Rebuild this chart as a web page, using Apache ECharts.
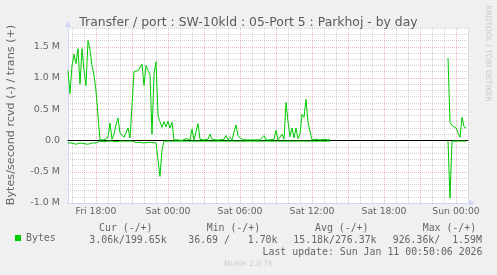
<!DOCTYPE html>
<html><head><meta charset="utf-8">
<script src="https://cdn.jsdelivr.net/npm/echarts@6/dist/echarts.min.js"></script>
<style>html,body{margin:0;padding:0;background:#f0f0f0;}#c{width:497px;height:275px;}</style>
</head><body><div id="c"></div>
<script>
// ---------- data ----------
const titleText = 'Transfer / port : SW-10kld : 05-Port 5 : Parkhoj - by day';
const yAxisTitle = 'Bytes/second rcvd (-) / trans (+)';
const sideText = 'RRDTOOL / TOBI OETIKER';
const footerText = 'Munin 2.0.76';
const dayNames = ['Fri', 'Sat', 'Sun'];
const startMinutes = 15 * 60 + 40;   // Fri 15:40
const stepMinutes = 10;
const xTickLabels = ['Fri 18:00', 'Sat 00:00', 'Sat 06:00', 'Sat 12:00', 'Sat 18:00', 'Sun 00:00'];
const yTickLabels = { '-1': '-1.0 M', '-0.5': '-0.5 M', '0': '0.0', '0.5': '0.5 M', '1': '1.0 M', '1.5': '1.5 M' };
// trans (+), millions of bytes/second, one value every 10 minutes from Fri 15:40
const transM = [
 1.12,0.75,1.2,1.38,1.23,1.47,0.9,1.47,1.12,0.88,
 1.6,1.45,1.2,1.05,0.79,0.76,0.01,0.02,0.01,0.02,
 0.05,0.28,0.02,0.1,0.25,0.36,0.12,0.1,0.05,0.06,
 0.2,0.04,0.03,1.1,1.13,1.12,1.14,1.22,0.88,1.2,
 1.12,1.06,0.1,1.06,1.26,0.4,0.3,0.21,0.3,0.22,
 0.31,0.2,0.29,0.01,0.0,0.01,0.01,0.0,0.01,0.03,
 0.01,0.01,0.18,0.01,0.01,0.27,0.02,0.01,0.01,0.01,
 0.02,0.1,0.02,0.01,0.01,0.01,0.01,0.01,0.02,0.08,
 0.01,0.05,0.01,0.02,0.25,0.08,0.04,0.01,0.01,0.01,
 0.01,0.01,0.01,0.01,0.01,0.02,0.01,0.01,0.08,0.01,
 0.03,0.01,0.01,0.02,0.16,0.01,0.02,0.1,0.02,0.61,
 0.3,0.06,0.2,0.04,0.2,0.03,0.1,0.42,0.37,0.66,
 0.29,0.15,0.01,0.01,0.02,0.01,0.01,0.01,0.02,0.01,
 0.01,0.01,null,null,null,null,null,null,null,null,
 null,null,null,null,null,null,null,null,null,null,
 null,null,null,null,null,null,null,null,null,null,
 null,null,null,null,null,null,null,null,null,null,
 null,null,null,null,null,null,null,null,null,null,
 null,null,null,null,null,null,null,null,null,null,
 1.32,0.29,0.24,0.22,0.2,0.19,0.05,0.37,0.22,0.2,
 null
];
// rcvd (-), millions of bytes/second, drawn below zero
const rcvdM = [
 0.04,0.05,0.04,0.05,0.06,0.05,0.04,0.06,0.05,0.04,
 0.06,0.05,0.04,0.03,0.04,0.01,0.01,0.01,0.02,0.01,
 0.01,0.01,0.01,0.01,0.02,0.01,0.01,0.01,0.01,0.01,
 0.01,0.02,0.01,0.03,0.03,0.04,0.03,0.03,0.04,0.03,
 0.03,0.04,0.03,0.03,0.04,0.03,0.575,0.15,0.01,0.01,
 0.01,0.01,0.01,0.01,0.01,0.01,0.01,0.01,0.01,0.01,
 0.01,0.01,0.01,0.01,0.01,0.01,0.01,0.01,0.01,0.01,
 0.01,0.01,0.01,0.01,0.01,0.01,0.01,0.01,0.01,0.01,
 0.01,0.01,0.01,0.01,0.01,0.01,0.01,0.01,0.01,0.01,
 0.01,0.01,0.01,0.01,0.01,0.01,0.01,0.01,0.01,0.01,
 0.01,0.01,0.01,0.01,0.01,0.01,0.01,0.01,0.01,0.01,
 0.01,0.01,0.01,0.01,0.01,0.01,0.01,0.01,0.01,0.01,
 0.01,0.01,0.01,0.01,0.01,0.01,0.01,0.01,0.01,0.01,
 0.01,0.01,null,null,null,null,null,null,null,null,
 null,null,null,null,null,null,null,null,null,null,
 null,null,null,null,null,null,null,null,null,null,
 null,null,null,null,null,null,null,null,null,null,
 null,null,null,null,null,null,null,null,null,null,
 null,null,null,null,null,null,null,null,null,null,
 0.01,0.92,0.01,0.01,0.01,0.01,0.01,0.01,0.01,0.01,
 null
];
const legendName = 'Bytes';
const legendHeaders = ['Cur (-/+)', 'Min (-/+)', 'Avg (-/+)', 'Max (-/+)'];
const legendValues = ['3.06k/199.65k', '36.69 /   1.70k', '15.18k/276.37k', '926.36k/  1.59M'];
const lastUpdate = 'Last update: Sun Jan 11 00:50:06 2026';

// ---------- build ----------
const categories = transM.map((_, i) => {
  const m = startMinutes + i * stepMinutes;
  const d = Math.floor(m / 1440), hh = Math.floor((m % 1440) / 60), mm = m % 60;
  return dayNames[d] + ' ' + String(hh).padStart(2, '0') + ':' + String(mm).padStart(2, '0');
});
const hourOf = v => parseInt(v.slice(4, 6), 10);
const isHour = v => v.slice(7) === '00';
const isMajor = v => isHour(v) && hourOf(v) % 3 === 0;

const FONT = '#666666';
const GREEN = '#00cc00';
const AXIS = '#cfd6f8';
const GRAY = 'rgba(140,140,140,0.38)';
const RED = 'rgba(200,40,40,0.32)';
const MONO = '"DejaVu Sans Mono"';

const chart = echarts.init(document.getElementById('c'), null, { renderer: 'canvas' });
const headerX = [99, 206.7, 315, 422.7];
const valueX = [89.3, 188.3, 293.3, 392.7];
const graphics = [];
legendHeaders.forEach((t, i) => graphics.push({ type: 'text', x: headerX[i], y: 228, style: { text: t, fill: FONT, font: '9.9px ' + MONO, align: 'left', verticalAlign: 'middle' } }));
legendValues.forEach((t, i) => graphics.push({ type: 'text', x: valueX[i], y: 240, style: { text: t, fill: FONT, font: '9.9px ' + MONO, align: 'left', verticalAlign: 'middle' } }));
graphics.push({ type: 'text', x: 482.5, y: 252, style: { text: lastUpdate, fill: FONT, font: '9.9px ' + MONO, align: 'right', verticalAlign: 'middle' } });
graphics.push({ type: 'text', x: 248.5, y: 264, style: { text: footerText, fill: '#cccccc', font: '7.5px "DejaVu Sans"', align: 'center', verticalAlign: 'middle' } });
graphics.push({ type: 'text', x: 11.5, y: 115, rotation: Math.PI / 2, style: { text: yAxisTitle, fill: FONT, font: '11.2px "DejaVu Sans"', align: 'center', verticalAlign: 'middle' } });
graphics.push({ type: 'text', x: 487.5, y: 53.5, rotation: -Math.PI / 2, style: { text: sideText, fill: '#c8c8c8', font: '7.5px "DejaVu Sans"', align: 'center', verticalAlign: 'middle' } });

chart.setOption({
  backgroundColor: '#f0f0f0',
  animation: false,
  title: { text: titleText, left: 'center', top: 12, textStyle: { color: '#5a5a5a', fontFamily: 'DejaVu Sans', fontSize: 12.4, fontWeight: 'normal' } },
  legend: { data: [legendName], left: 15, top: 233, padding: 0, icon: 'rect', itemWidth: 6, itemHeight: 6, textStyle: { color: FONT, fontFamily: 'DejaVu Sans Mono', fontSize: 9.9 } },
  grid: { left: 68, top: 28, width: 400, height: 175, show: true, backgroundColor: '#ffffff', borderWidth: 0 },
  xAxis: [
    { type: 'category', data: categories, boundaryGap: false, position: 'bottom',
      axisLine: { onZero: false, lineStyle: { color: AXIS, width: 1 }, symbol: ['none', 'triangle'], symbolSize: [6, 6], symbolOffset: [0, 4] },
      axisTick: { show: false },
      axisLabel: { interval: (i, v) => xTickLabels.indexOf(v) >= 0, color: FONT, fontFamily: 'DejaVu Sans', fontSize: 9.3, margin: 4 },
      splitLine: { show: true, interval: (i, v) => isMajor(v), lineStyle: { color: RED, width: 1, type: [1, 1] } } },
    { type: 'category', data: categories, boundaryGap: false, position: 'bottom',
      axisLine: { onZero: true, onZeroAxisIndex: 0, lineStyle: { color: '#000000', width: 1 } },
      axisTick: { show: false }, axisLabel: { show: false },
      splitLine: { show: true, interval: (i, v) => isHour(v) && !isMajor(v), lineStyle: { color: GRAY, width: 1, type: [1, 1] } } }
  ],
  yAxis: [
    { type: 'value', position: 'left', min: -1, max: 1.8, interval: 0.5,
      axisLine: { show: true, lineStyle: { color: AXIS, width: 1 }, symbol: ['none', 'triangle'], symbolSize: [6, 6], symbolOffset: [0, 4] },
      axisTick: { show: false },
      axisLabel: { color: FONT, fontFamily: 'DejaVu Sans', fontSize: 9.5, margin: 8, formatter: v => yTickLabels[String(Math.round(v * 10) / 10)] || '' },
      splitLine: { show: true, showMaxLine: false, showMinLine: true, lineStyle: { color: RED, width: 1, type: [1, 1] } } },
    { type: 'value', position: 'left', min: -1, max: 1.8, interval: 0.1,
      axisLine: { show: false }, axisTick: { show: false }, axisLabel: { show: false },
      splitLine: { show: true, lineStyle: { color: ['transparent', GRAY, GRAY, GRAY, GRAY], width: 1, type: [1, 1] } } }
  ],
  series: [
    { name: legendName, type: 'line', xAxisIndex: 0, yAxisIndex: 0, data: transM, showSymbol: false, symbol: 'none', connectNulls: false,
      lineStyle: { color: GREEN, width: 1 }, itemStyle: { color: GREEN }, z: 3 },
    { name: legendName, type: 'line', xAxisIndex: 0, yAxisIndex: 0, data: rcvdM.map(v => v == null ? null : -v), showSymbol: false, symbol: 'none', connectNulls: false,
      lineStyle: { color: GREEN, width: 1 }, itemStyle: { color: GREEN }, z: 3 }
  ],
  graphic: graphics
});
</script></body></html>
